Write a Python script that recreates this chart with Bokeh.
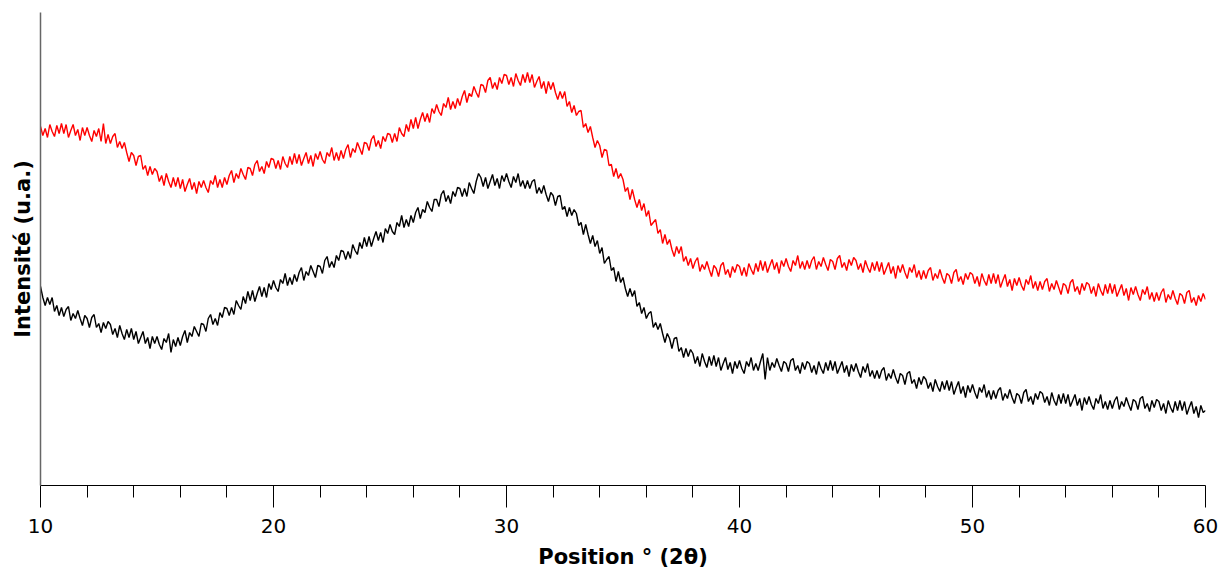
from bokeh.plotting import figure
from bokeh.models import Range1d, FixedTicker
from bokeh.embed import file_html
from bokeh.resources import INLINE

# Sampling grid of the diffractogram (degrees 2-theta)
two_theta_start = 10.0
two_theta_step = 0.1

# Upper pattern (red), intensity in arbitrary units
red_intensity = [
    359, 350, 357, 348, 361, 354, 349, 360, 352, 362,
    352, 361, 348, 355, 361, 350, 356, 345, 358, 350,
    358, 350, 344, 355, 349, 357, 344, 362, 342, 351,
    342, 349, 352, 338, 344, 337, 343, 333, 324, 333,
    330, 320, 329, 330, 316, 320, 310, 319, 311, 317,
    314, 304, 310, 300, 312, 304, 298, 308, 299, 308,
    297, 306, 294, 301, 307, 296, 303, 292, 304, 298,
    305, 298, 293, 305, 301, 310, 298, 306, 298, 308,
    301, 310, 315, 303, 312, 307, 317, 311, 306, 318,
    317, 310, 321, 325, 314, 319, 312, 324, 318, 327,
    326, 317, 325, 316, 329, 322, 318, 329, 321, 332,
    322, 331, 320, 327, 333, 322, 330, 319, 332, 326,
    334, 326, 322, 333, 329, 338, 325, 333, 325, 335,
    327, 336, 341, 328, 337, 333, 343, 337, 331, 343,
    342, 335, 346, 350, 339, 345, 337, 349, 344, 352,
    351, 343, 352, 344, 358, 352, 349, 361, 354, 366,
    357, 368, 357, 366, 373, 364, 372, 363, 377, 372,
    381, 374, 370, 382, 378, 388, 376, 384, 377, 387,
    380, 389, 395, 383, 392, 389, 399, 393, 388, 401,
    400, 393, 405, 408, 397, 403, 396, 408, 402, 411,
    410, 401, 408, 399, 412, 405, 400, 411, 403, 413,
    403, 411, 398, 404, 409, 397, 404, 392, 404, 396,
    403, 393, 386, 394, 387, 394, 379, 384, 373, 380,
    370, 374, 375, 358, 362, 353, 359, 348, 338, 345,
    340, 328, 336, 335, 320, 321, 309, 317, 307, 312,
    306, 294, 298, 286, 296, 286, 278, 286, 275, 282,
    269, 275, 260, 263, 266, 252, 256, 242, 251, 241,
    246, 236, 229, 239, 232, 239, 224, 229, 220, 227,
    217, 224, 228, 214, 221, 216, 224, 216, 209, 220,
    217, 209, 220, 223, 211, 216, 208, 219, 213, 221,
    219, 210, 218, 209, 222, 216, 211, 222, 214, 225,
    215, 224, 213, 220, 226, 216, 223, 212, 225, 219,
    227, 219, 214, 225, 220, 230, 217, 224, 216, 225,
    217, 225, 229, 216, 224, 219, 228, 221, 215, 226,
    224, 216, 227, 230, 218, 223, 215, 226, 220, 228,
    225, 216, 222, 213, 225, 218, 213, 223, 215, 224,
    214, 223, 211, 217, 223, 212, 219, 207, 220, 213,
    221, 213, 207, 218, 213, 221, 208, 215, 206, 215,
    207, 215, 218, 205, 212, 207, 216, 208, 202, 212,
    210, 202, 213, 216, 204, 209, 201, 212, 206, 213,
    211, 202, 209, 199, 212, 205, 200, 211, 202, 212,
    202, 211, 198, 205, 211, 199, 206, 195, 207, 200,
    208, 200, 195, 206, 201, 210, 197, 204, 195, 204,
    196, 204, 207, 194, 202, 196, 205, 198, 191, 202,
    200, 192, 203, 206, 194, 199, 191, 202, 195, 203,
    201, 192, 199, 189, 202, 195, 190, 201, 192, 202,
    192, 201, 189, 195, 201, 190, 197, 185, 198, 191,
    199, 191, 185, 196, 191, 199, 186, 193, 184, 193,
    185, 193, 197, 183, 191, 186, 195, 187, 181, 192,
    190, 182, 193, 195, 183, 188, 180, 190, 184, 192,
    186,
]

# Lower pattern (black)
black_intensity = [
    199, 188, 180, 188, 181, 188, 174, 180, 170, 178,
    169, 176, 179, 165, 172, 167, 175, 167, 160, 170,
    167, 158, 168, 171, 158, 162, 153, 163, 157, 164,
    161, 151, 157, 148, 160, 152, 146, 156, 148, 157,
    146, 154, 142, 148, 154, 142, 148, 137, 149, 142,
    149, 141, 136, 147, 143, 152, 133, 146, 139, 148,
    140, 149, 155, 143, 153, 149, 159, 154, 149, 162,
    161, 154, 167, 171, 161, 167, 160, 173, 168, 178,
    177, 170, 178, 171, 185, 180, 176, 189, 182, 194,
    185, 195, 184, 192, 199, 189, 198, 188, 202, 196,
    205, 198, 194, 206, 202, 212, 200, 208, 201, 211,
    204, 213, 218, 205, 214, 210, 220, 214, 208, 220,
    219, 212, 225, 229, 218, 224, 218, 230, 225, 235,
    234, 226, 234, 227, 241, 235, 231, 243, 237, 248,
    239, 249, 239, 247, 254, 245, 253, 243, 257, 252,
    261, 254, 251, 263, 259, 270, 258, 266, 259, 270,
    263, 273, 278, 267, 276, 273, 284, 278, 274, 286,
    286, 279, 291, 295, 284, 290, 282, 294, 289, 298,
    297, 289, 297, 289, 303, 297, 292, 304, 312, 308,
    299, 308, 297, 304, 311, 300, 307, 297, 310, 304,
    312, 304, 298, 309, 303, 312, 299, 305, 297, 305,
    297, 304, 306, 292, 298, 292, 300, 291, 284, 293,
    290, 280, 289, 290, 276, 279, 269, 278, 270, 276,
    272, 260, 263, 251, 261, 251, 242, 250, 239, 245,
    232, 238, 222, 226, 229, 215, 218, 204, 214, 203,
    208, 197, 189, 197, 189, 195, 179, 183, 172, 178,
    167, 172, 174, 158, 163, 156, 162, 152, 143, 152,
    147, 137, 147, 148, 134, 138, 128, 137, 129, 136,
    132, 122, 129, 119, 132, 124, 118, 129, 120, 130,
    119, 128, 115, 122, 128, 116, 123, 112, 124, 117,
    125, 117, 112, 124, 119, 128, 115, 122, 115, 124,
    132, 106, 128, 115, 123, 118, 127, 120, 114, 124,
    122, 114, 125, 127, 115, 120, 112, 123, 116, 124,
    122, 113, 120, 111, 124, 117, 112, 123, 115, 125,
    115, 124, 112, 118, 124, 113, 120, 109, 121, 114,
    122, 114, 108, 119, 113, 122, 109, 115, 107, 115,
    107, 115, 118, 105, 112, 107, 116, 108, 102, 112,
    110, 101, 112, 114, 102, 106, 97, 108, 101, 109,
    106, 97, 103, 94, 106, 99, 94, 104, 96, 105,
    95, 104, 91, 98, 104, 92, 99, 88, 100, 93,
    101, 93, 87, 98, 93, 101, 88, 95, 86, 95,
    87, 95, 98, 85, 92, 87, 96, 88, 82, 92,
    90, 82, 93, 96, 84, 89, 81, 92, 86, 94,
    92, 83, 89, 80, 93, 85, 80, 91, 82, 92,
    82, 91, 79, 85, 91, 80, 87, 75, 88, 81,
    89, 81, 76, 87, 82, 91, 77, 84, 76, 85,
    77, 85, 89, 76, 84, 79, 88, 81, 75, 86,
    84, 76, 87, 89, 77, 82, 74, 85, 78, 86,
    84, 75, 82, 72, 85, 78, 73, 84, 75, 85,
    75, 84, 71, 78, 84, 72, 79, 68, 80, 73,
    75,
]

x_major_ticks = [10, 20, 30, 40, 50, 60]
x_minor_ticks = [12, 14, 16, 18, 22, 24, 26, 28, 32, 34, 36, 38,
                 42, 44, 46, 48, 52, 54, 56, 58]
x_label = "Position ° (2θ)"
y_label = "Intensité (u.a.)"

two_theta = [round(two_theta_start + i * two_theta_step, 1)
             for i in range(len(red_intensity))]

FONT = "DejaVu Sans"

p = figure(width=1227, height=574, output_backend="svg", toolbar_location=None,
           x_range=Range1d(10, 60), y_range=Range1d(0, 473),
           min_border_left=40, min_border_right=22, min_border_top=12,
           min_border_bottom=89)
p.outline_line_color = None
p.xgrid.visible = False
p.ygrid.visible = False
p.background_fill_color = "white"
p.border_fill_color = "white"

p.line(two_theta, red_intensity, line_color="#ff0000", line_width=1.4)
p.line(two_theta, black_intensity, line_color="#000000", line_width=1.4)

xa = p.xaxis[0]
xa.ticker = FixedTicker(ticks=x_major_ticks, minor_ticks=x_minor_ticks)
xa.axis_line_color = "#000000"
xa.axis_line_width = 1
xa.major_tick_in = 0
xa.major_tick_out = 22
xa.minor_tick_in = 0
xa.minor_tick_out = 12
xa.major_tick_line_color = "#000000"
xa.minor_tick_line_color = "#000000"
xa.major_label_text_font = FONT
xa.major_label_text_font_size = "20px"
xa.major_label_text_color = "#000000"
xa.major_label_standoff = 11
xa.axis_label = x_label
xa.axis_label_text_font = FONT
xa.axis_label_text_font_size = "21px"
xa.axis_label_text_font_style = "bold"
xa.axis_label_text_color = "#000000"
xa.axis_label_standoff = 9

ya = p.yaxis[0]
ya.ticker = FixedTicker(ticks=[])
ya.axis_line_color = "#666666"
ya.axis_line_width = 1.5
ya.major_tick_line_color = None
ya.minor_tick_line_color = None
ya.major_label_text_font_size = "0px"
ya.axis_label = y_label
ya.axis_label_text_font = FONT
ya.axis_label_text_font_size = "21px"
ya.axis_label_text_font_style = "bold"
ya.axis_label_text_color = "#000000"
ya.axis_label_standoff = 6

open("out.html", "w").write(file_html(p, INLINE))
